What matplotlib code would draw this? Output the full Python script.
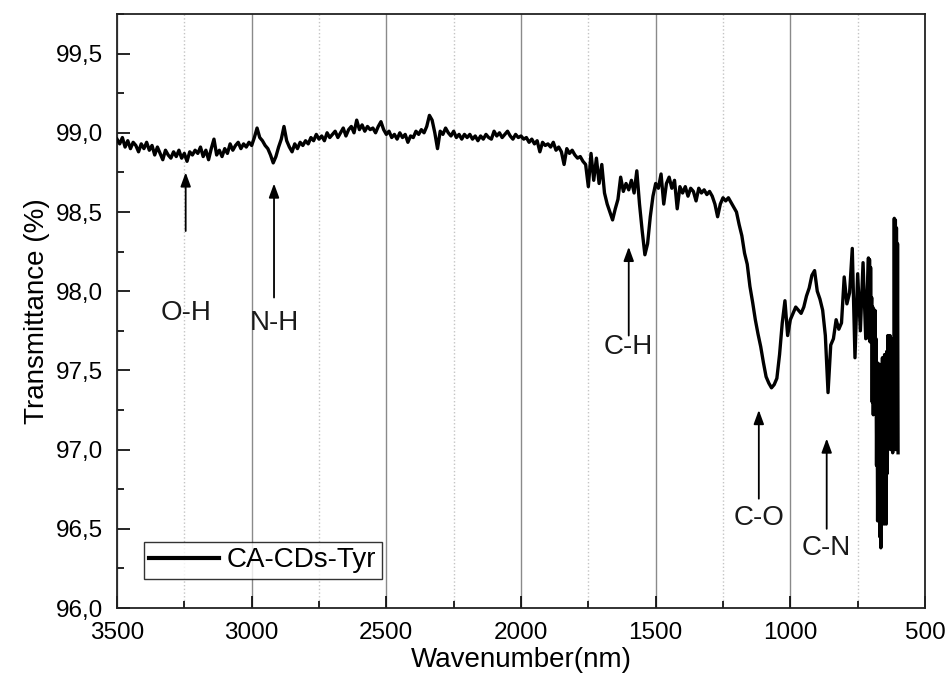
import numpy as np
import matplotlib
matplotlib.use("Agg")
import matplotlib.pyplot as plt
from matplotlib.ticker import MultipleLocator, FuncFormatter

plt.rcParams['font.family'] = ['Liberation Sans', 'DejaVu Sans']

# wavenumber grid, 3500 -> 710 every 10, then 708 -> 600 every 2
wn_main = np.arange(3500, 709, -10)
wn_tail = np.arange(708, 599, -2)

# transmittance, 10 values per row (100 cm-1)
t_main = [
    98.96, 98.93, 98.97, 98.91, 98.95, 98.90, 98.94, 98.92, 98.88, 98.93,  # 3500
    98.90, 98.94, 98.89, 98.92, 98.86, 98.91, 98.87, 98.83, 98.89, 98.86,  # 3400
    98.84, 98.88, 98.85, 98.89, 98.84, 98.87, 98.82, 98.88, 98.86, 98.89,  # 3300
    98.87, 98.91, 98.85, 98.89, 98.83, 98.90, 98.96, 98.86, 98.89, 98.85,  # 3200
    98.90, 98.87, 98.93, 98.89, 98.92, 98.94, 98.90, 98.93, 98.91, 98.94,  # 3100
    98.92, 98.97, 99.03, 98.97, 98.95, 98.92, 98.90, 98.86, 98.81, 98.85,  # 3000
    98.91, 98.96, 99.04, 98.95, 98.91, 98.88, 98.93, 98.90, 98.94, 98.92,  # 2900
    98.95, 98.93, 98.97, 98.95, 98.99, 98.96, 98.98, 98.95, 99.00, 98.97,  # 2800
    98.99, 99.01, 98.97, 99.00, 99.03, 98.98, 99.02, 99.04, 99.00, 99.08,  # 2700
    99.02, 99.05, 99.01, 99.04, 99.02, 99.03, 99.00, 99.04, 99.07, 99.02,  # 2600
    98.99, 99.01, 98.97, 98.99, 98.96, 99.00, 98.97, 98.99, 98.94, 98.98,  # 2500
    98.97, 99.01, 98.99, 99.02, 99.00, 99.04, 99.11, 99.08, 99.00, 98.90,  # 2400
    99.01, 98.99, 99.03, 99.00, 98.98, 99.01, 98.97, 98.99, 98.96, 98.99,  # 2300
    98.97, 98.99, 98.96, 98.98, 98.95, 98.98, 98.96, 98.99, 98.97, 98.96,  # 2200
    99.01, 98.98, 99.00, 98.97, 98.99, 99.01, 98.98, 98.96, 98.99, 98.97,  # 2100
    98.98, 98.96, 98.97, 98.94, 98.96, 98.93, 98.95, 98.88, 98.94, 98.92,  # 2000
    98.93, 98.91, 98.94, 98.89, 98.91, 98.88, 98.80, 98.90, 98.87, 98.89,  # 1900
    98.86, 98.84, 98.85, 98.82, 98.80, 98.66, 98.87, 98.70, 98.84, 98.68,  # 1800
    98.80, 98.62, 98.55, 98.50, 98.45, 98.52, 98.58, 98.72, 98.63, 98.68,  # 1700
    98.64, 98.70, 98.62, 98.76, 98.55, 98.38, 98.23, 98.30, 98.47, 98.60,  # 1600
    98.68, 98.65, 98.74, 98.55, 98.68, 98.72, 98.65, 98.70, 98.52, 98.66,  # 1500
    98.62, 98.66, 98.60, 98.65, 98.63, 98.57, 98.65, 98.62, 98.64, 98.61,  # 1400
    98.63, 98.60, 98.55, 98.47, 98.55, 98.59, 98.57, 98.59, 98.56, 98.53,  # 1300
    98.50, 98.42, 98.35, 98.24, 98.17, 98.03, 97.93, 97.82, 97.73, 97.65,  # 1200
    97.55, 97.46, 97.42, 97.39, 97.41, 97.45, 97.60, 97.80, 97.94, 97.72,  # 1100
    97.82, 97.86, 97.90, 97.88, 97.86, 97.90, 97.97, 98.02, 98.10, 98.13,  # 1000
    98.00, 97.95, 97.88, 97.72, 97.36, 97.66, 97.70, 97.82, 97.76, 97.80,  # 900
    98.09, 97.92, 97.99, 98.27, 97.58, 98.11, 97.75, 98.18, 97.70, 98.21,  # 800
]
t_tail = [
    97.70, 98.20, 97.68, 98.15, 97.75, 97.96, 97.30, 97.90, 97.22, 97.85,  # 708
    97.25, 97.88, 97.40, 97.70, 96.90, 97.55, 96.55, 97.50, 96.70, 97.54,  # 688
    96.45, 97.40, 96.38, 97.50, 96.60, 97.58, 96.55, 97.45, 96.53, 97.60,  # 668
    96.70, 97.55, 96.53, 97.62, 96.85, 97.72, 97.06, 97.65, 97.10, 97.72,  # 648
    97.00, 97.60, 97.05, 97.65, 96.98, 97.70, 97.10, 98.46, 97.20, 98.45,  # 628
    97.00, 98.40, 97.05, 98.30, 96.98,                                      # 608
]

wavenumber = np.concatenate([wn_main, wn_tail])
transmittance = np.array(t_main + t_tail)

# peak labels: arrow x, arrow tip y, arrow tail y, text y
peak_names = ["O-H", "N-H", "C-H", "C-O", "C-N"]
peak_x = [3245, 2917, 1600, 1117, 865]
tip_y = [98.75, 98.68, 98.28, 97.25, 97.07]
tail_y = [98.38, 97.96, 97.72, 96.69, 96.50]
label_y = [97.86, 97.80, 97.65, 96.57, 96.38]

fig = plt.figure(figsize=(9.47, 6.81), dpi=100)
ax = fig.add_axes([117/947, 1-608/681, 808/947, 594/681])

ax.plot(wavenumber, transmittance, color='black', linewidth=2.4, label='CA-CDs-Tyr', zorder=3)

for name, px, ty, ly, lty in zip(peak_names, peak_x, tip_y, tail_y, label_y):
    ax.annotate("", xy=(px, ty), xytext=(px, ly),
                arrowprops=dict(arrowstyle='-|>,head_length=0.6,head_width=0.22', color='black',
                                lw=1.3, mutation_scale=14, shrinkA=0, shrinkB=0))
    ax.text(px, lty, name, ha='center', va='center', fontsize=20, color='#1a1a1a')

ax.set_xlim(3500, 500)
ax.set_ylim(96.0, 99.75)
ax.xaxis.set_major_locator(MultipleLocator(500))
ax.xaxis.set_minor_locator(MultipleLocator(250))
ax.yaxis.set_major_locator(MultipleLocator(0.5))
ax.yaxis.set_minor_locator(MultipleLocator(0.25))
ax.yaxis.set_major_formatter(FuncFormatter(lambda v, p: ("%.1f" % v).replace('.', ',')))

ax.grid(which='major', axis='x', color='#8a8a8a', linestyle='-', linewidth=1.0)
ax.grid(which='minor', axis='x', color='#c4c4c4', linestyle=':', linewidth=1.0)
ax.set_axisbelow(True)

ax.tick_params(which='both', direction='in', top=False, right=False, width=1.2)
ax.tick_params(which='major', length=9, labelsize=17.5, pad=10)
ax.tick_params(which='minor', length=5)
for s in ax.spines.values():
    s.set_linewidth(1.3)
    s.set_color('#222222')

ax.set_xlabel("Wavenumber(nm)", fontsize=20, labelpad=2)
ax.set_ylabel("Transmittance (%)", fontsize=20, labelpad=4)

leg = ax.legend(loc='lower left', bbox_to_anchor=(0.033, 0.049), borderaxespad=0,
                fontsize=20, frameon=True, fancybox=False, handlelength=2.5,
                handletextpad=0.3, borderpad=0.2)
leg.get_frame().set_edgecolor('black')
leg.get_frame().set_linewidth(1.0)
for line in leg.get_lines():
    line.set_linewidth(3)

fig.savefig("out.png", dpi=100)
